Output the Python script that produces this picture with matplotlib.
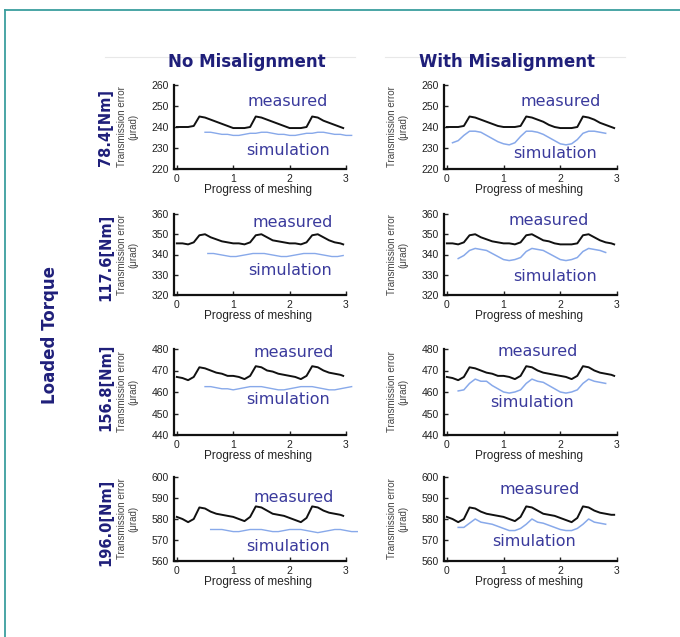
import matplotlib
matplotlib.use("Agg")
import matplotlib.pyplot as plt
from matplotlib.lines import Line2D

# column / row headings
col_titles = ["No Misalignment", "With Misalignment"]
row_titles = ["78.4[Nm]", "117.6[Nm]", "156.8[Nm]", "196.0[Nm]"]
y_limits = [(220, 260), (320, 360), (440, 480), (560, 600)]
y_ticks = [[220, 230, 240, 250, 260],
           [320, 330, 340, 350, 360],
           [440, 450, 460, 470, 480],
           [560, 570, 580, 590, 600]]
x_ticks = [0, 1, 2, 3]

# measured transmission error (black), same x grid everywhere
x_meas = [0.0, 0.1, 0.2, 0.3, 0.4, 0.5, 0.6, 0.7, 0.8, 0.9, 1.0, 1.1, 1.2, 1.3, 1.4, 1.5,
          1.6, 1.7, 1.8, 1.9, 2.0, 2.1, 2.2, 2.3, 2.4, 2.5, 2.6, 2.7, 2.8, 2.9, 2.95]
meas_no = [
    [240, 240, 240, 240.5, 245, 244.5, 243.5, 242.5, 241.5, 240.5, 239.5, 239.5, 239.5, 240, 245, 244.5,
     243.5, 242.5, 241.5, 240.5, 239.5, 239.5, 239.5, 240, 245, 244.5, 243, 242, 241, 240, 239.5],
    [345.5, 345.5, 345, 346, 349.5, 350, 348.5, 347.5, 346.5, 346, 345.5, 345.5, 345, 346, 349.5, 350,
     348.5, 347, 346.5, 346, 345.5, 345.5, 345, 346, 349.5, 350, 348.5, 347, 346, 345.5, 345],
    [467, 466.5, 465.5, 467, 471.5, 471, 470, 469, 468.5, 467.5, 467.5, 467, 466, 467.5, 472, 471.5,
     470, 469.5, 468.5, 468, 467.5, 467, 466, 467.5, 472, 471.5, 470, 469, 468.5, 468, 467.5],
    [581, 580, 578.5, 580, 585.5, 585, 583.5, 582.5, 582, 581.5, 581, 580, 579, 581, 586, 585.5,
     584, 582.5, 582, 581.5, 580.5, 579.5, 578.5, 580.5, 586, 585.5, 584, 583, 582.5, 582, 581.5],
]
meas_mis = [
    [240, 240, 240, 240.5, 245, 244.5, 243.5, 242.5, 241.5, 240.5, 240, 240, 240, 240.5, 245, 244.5,
     243.5, 242.5, 241, 240, 239.5, 239.5, 239.5, 240, 245, 244.5, 243.5, 242, 241, 240, 239.5],
    [345.5, 345.5, 345, 346, 349.5, 350, 348.5, 347.5, 346.5, 346, 345.5, 345.5, 345, 346, 349.5, 350,
     348.5, 347, 346.5, 345.5, 345, 345, 345, 345.5, 349.5, 350, 348.5, 347, 346, 345.5, 345],
    [467, 466.5, 465.5, 467, 471.5, 471, 470, 469, 468.5, 467.5, 467.5, 467, 466, 467.5, 472, 471.5,
     470, 469, 468.5, 468, 467.5, 467, 466, 467.5, 472, 471.5, 470, 469, 468.5, 468, 467.5],
    [581, 580, 578.5, 580, 585.5, 585, 583.5, 582.5, 582, 581.5, 581, 580, 579, 581, 586, 585.5,
     584, 582.5, 582, 581.5, 580.5, 579.5, 578.5, 580.5, 586, 585.5, 584, 583, 582.5, 582, 582],
]

# simulation (light blue)
x_sim_no = [
    [0.5, 0.6, 0.7, 0.8, 0.9, 1.0, 1.1, 1.2, 1.3, 1.4, 1.5, 1.6, 1.7, 1.8, 1.9, 2.0, 2.1, 2.2,
     2.3, 2.4, 2.5, 2.6, 2.7, 2.8, 2.9, 3.0, 3.1],
    [0.55, 0.65, 0.75, 0.85, 0.95, 1.05, 1.15, 1.25, 1.35, 1.45, 1.55, 1.65, 1.75, 1.85, 1.95,
     2.05, 2.15, 2.25, 2.35, 2.45, 2.55, 2.65, 2.75, 2.85, 2.95],
    [0.5, 0.6, 0.7, 0.8, 0.9, 1.0, 1.1, 1.2, 1.3, 1.4, 1.5, 1.6, 1.7, 1.8, 1.9, 2.0, 2.1, 2.2,
     2.3, 2.4, 2.5, 2.6, 2.7, 2.8, 2.9, 3.0, 3.1],
    [0.6, 0.7, 0.8, 0.9, 1.0, 1.1, 1.2, 1.3, 1.4, 1.5, 1.6, 1.7, 1.8, 1.9, 2.0, 2.1, 2.2, 2.3,
     2.4, 2.5, 2.6, 2.7, 2.8, 2.9, 3.0, 3.1, 3.2],
]
sim_no = [
    [237.5, 237.5, 237, 236.5, 236.5, 236, 236, 236.5, 237, 237, 237.5, 237.5, 237, 236.5, 236.5,
     236, 236, 236.5, 237, 237, 237.5, 237.5, 237, 236.5, 236.5, 236, 236],
    [340.5, 340.5, 340, 339.5, 339, 339, 339.5, 340, 340.5, 340.5, 340.5, 340, 339.5, 339, 339,
     339.5, 340, 340.5, 340.5, 340.5, 340, 339.5, 339, 339, 339.5],
    [462.5, 462.5, 462, 461.5, 461.5, 461, 461.5, 462, 462.5, 462.5, 462.5, 462, 461.5, 461, 461,
     461.5, 462, 462.5, 462.5, 462.5, 462, 461.5, 461, 461, 461.5, 462, 462.5],
    [575, 575, 575, 574.5, 574, 574, 574.5, 575, 575, 575, 574.5, 574, 574, 574.5, 575, 575, 575,
     574.5, 574, 573.5, 574, 574.5, 575, 575, 574.5, 574, 574],
]
x_sim_mis = [
    [0.1, 0.2, 0.3, 0.4, 0.5, 0.6, 0.7, 0.8, 0.9, 1.0, 1.1, 1.2, 1.3, 1.4, 1.5, 1.6, 1.7, 1.8,
     1.9, 2.0, 2.1, 2.2, 2.3, 2.4, 2.5, 2.6, 2.7, 2.8],
    [0.2, 0.3, 0.4, 0.5, 0.6, 0.7, 0.8, 0.9, 1.0, 1.1, 1.2, 1.3, 1.4, 1.5, 1.6, 1.7, 1.8, 1.9,
     2.0, 2.1, 2.2, 2.3, 2.4, 2.5, 2.6, 2.7, 2.8],
    [0.2, 0.3, 0.4, 0.5, 0.6, 0.7, 0.8, 0.9, 1.0, 1.1, 1.2, 1.3, 1.4, 1.5, 1.6, 1.7, 1.8, 1.9,
     2.0, 2.1, 2.2, 2.3, 2.4, 2.5, 2.6, 2.7, 2.8],
    [0.2, 0.3, 0.4, 0.5, 0.6, 0.7, 0.8, 0.9, 1.0, 1.1, 1.2, 1.3, 1.4, 1.5, 1.6, 1.7, 1.8, 1.9,
     2.0, 2.1, 2.2, 2.3, 2.4, 2.5, 2.6, 2.7, 2.8],
]
sim_mis = [
    [232.5, 233.5, 236, 238, 238, 237.5, 236, 234.5, 233, 232, 231.5, 232.5, 235.5, 238, 238,
     237.5, 236.5, 235, 233.5, 232, 231.5, 232, 234, 237, 238, 238, 237.5, 237],
    [338, 339.5, 342, 343, 342.5, 342, 340.5, 339, 337.5, 337, 337.5, 338.5, 341.5, 343, 342.5,
     342, 340.5, 339, 337.5, 337, 337.5, 338.5, 341.5, 343, 342.5, 342, 341],
    [460.5, 461, 464, 466, 465, 465, 463, 461.5, 460, 459.5, 460, 461, 464, 466, 465, 464.5,
     463, 461.5, 460, 459.5, 460, 461, 464, 466, 465, 464.5, 464],
    [576, 576, 578, 580, 578.5, 578, 577.5, 576.5, 575.5, 574.5, 574.5, 575.5, 577.5, 580, 578.5,
     578, 577, 576, 575, 574.5, 574.5, 575.5, 577.5, 580, 578.5, 578, 577.5],
]

# where the two words sit inside each panel (data coords)
meas_pos = [[(1.97, 252), (2.0, 252)], [(2.05, 356), (1.8, 357)],
            [(2.08, 478.5), (1.6, 479)], [(2.08, 590), (1.64, 594)]]
sim_pos = [[(1.97, 229), (1.9, 227.5)], [(2.0, 332), (1.9, 329)],
           [(1.97, 456.5), (1.5, 455)], [(1.98, 567), (1.54, 569.5)]]

W, H = 680, 637
fig = plt.figure(figsize=(W / 100, H / 100), dpi=100)
fig.patch.set_facecolor("white")

navy = "#1f1f7a"
word_col = "#3a3a9c"
sim_col = "#88a9ea"

# pixel boxes of the axes: (left, top, right, bottom)
col_lr = [(174, 346), (444, 617)]
row_tb = [(85, 169), (214, 295), (349, 435), (477, 561)]

for r in range(4):
    for c in range(2):
        l, rr = col_lr[c]
        t, b = row_tb[r]
        ax = fig.add_axes([l / W, 1 - b / H, (rr - l) / W, (b - t) / H])
        ax.set_facecolor("none")
        ax.plot(x_meas, (meas_no if c == 0 else meas_mis)[r], color="#111111", lw=1.4)
        if c == 0:
            ax.plot(x_sim_no[r], sim_no[r], color=sim_col, lw=1.0, clip_on=False)
        else:
            ax.plot(x_sim_mis[r], sim_mis[r], color=sim_col, lw=1.1, clip_on=False)
        ax.set_xlim(-0.05, 3.0)
        ax.set_ylim(*y_limits[r])
        ax.set_xticks(x_ticks)
        ax.set_yticks(y_ticks[r])
        for s in ["top", "right"]:
            ax.spines[s].set_visible(False)
        for s in ["left", "bottom"]:
            ax.spines[s].set_linewidth(1.6)
            ax.spines[s].set_color("#111111")
        ax.tick_params(direction="in", length=3, width=1, labelsize=7.5, pad=3.5,
                       colors="#222222")
        for lab in ax.get_xticklabels() + ax.get_yticklabels():
            lab.set_family("Liberation Sans")
        ax.set_xlabel("Progress of meshing", fontsize=8.5, family="Liberation Sans",
                      color="#222222")
        ax.xaxis.set_label_coords(0.49, -14.5 / (b - t))
        ax.set_ylabel("Transmission error\n(\u03bcrad)", fontsize=7,
                      family="Liberation Sans", color="#444444", linespacing=1.25)
        ax.yaxis.set_label_coords(-0.205, 0.5)
        mx, my = meas_pos[r][c]
        sx, sy = sim_pos[r][c]
        ax.text(mx, my, "measured", color=word_col, fontsize=11.5, ha="center", va="center")
        ax.text(sx, sy, "simulation", color=word_col, fontsize=11.5, ha="center", va="center")

# headings
fig.text(247 / W, 1 - 62 / H, col_titles[0], color=navy, fontsize=12, fontweight="bold",
         ha="center", va="center")
fig.text(507 / W, 1 - 62 / H, col_titles[1], color=navy, fontsize=12, fontweight="bold",
         ha="center", va="center")
row_y = [127, 257, 387, 522]
for r in range(4):
    fig.text(106 / W, 1 - row_y[r] / H, row_titles[r], color=navy, fontsize=10.5,
             fontweight="bold", rotation=90, ha="center", va="center")
fig.text(50 / W, 1 - 335 / H, "Loaded Torque", color=navy, fontsize=12, fontweight="bold",
         rotation=90, ha="center", va="center")

# faint borders of the pasted panels
for (x0, x1) in [(105, 355), (385, 625)]:
    fig.add_artist(Line2D([x0 / W, x1 / W], [1 - 57 / H] * 2, color="#e8e8e8", lw=0.8))

# teal frame
teal = "#3a9e9e"
fig.add_artist(Line2D([5 / W, 1.0], [1 - 10 / H] * 2, color=teal, lw=1.3))
fig.add_artist(Line2D([5 / W, 5 / W], [0.0, 1 - 10 / H], color=teal, lw=1.3))

fig.savefig("out.png", dpi=100)
